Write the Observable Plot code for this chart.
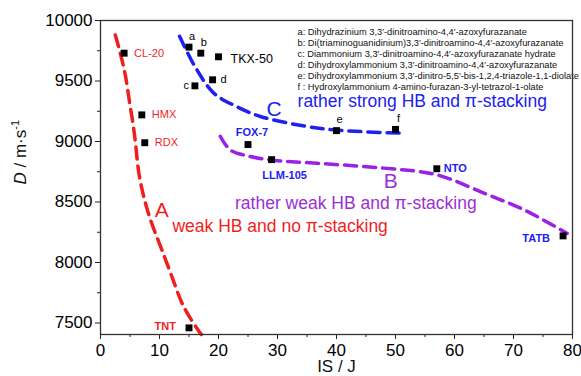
<!DOCTYPE html>
<html>
<head>
<meta charset="utf-8">
<script src="https://cdn.jsdelivr.net/npm/d3@7"></script>
<script src="https://cdn.jsdelivr.net/npm/@observablehq/plot@0.6"></script>
<style>
  html, body { margin: 0; padding: 0; background: #fff; }
  #chart svg { display: block; overflow: visible; }
</style>
</head>
<body>
<div id="chart"></div>
<script>
// ---- data ----
const names   = ["CL-20","HMX","RDX","TNT","a","b","TKX-50","c","d","e","f","FOX-7","LLM-105","NTO","TATB"];
const isJ     = [4, 7, 7.5, 15, 15, 17, 20, 16, 19, 40, 50, 25, 29, 57, 78.4];
const dValues = [9730, 9220, 8990, 7460, 9780, 9730, 9700, 9460, 9510, 9090, 9100, 8975, 8850, 8775, 8220];

const curveAx = [2.5, 3.3, 4.2, 5.0, 5.5, 5.9, 6.5, 7.4, 8.5, 10.2, 11.9, 14.1, 16.7, 17.1];
const curveAy = [9880, 9740, 9550, 9300, 9150, 9000, 8740, 8530, 8350, 8130, 7910, 7635, 7430, 7405];
const curveBx = [20.3, 22, 25.4, 28.8, 36.7, 48, 57, 65, 72, 79.1];
const curveBy = [9043, 8930, 8876, 8848, 8820, 8780, 8725, 8573, 8430, 8240];
const curveCx = [13.4, 16, 19.2, 23, 27.1, 35, 39.8, 45, 50.8, 51.4];
const curveCy = [9870, 9620, 9400, 9290, 9207, 9124, 9096, 9080, 9069, 9068];

const xTicks = [0, 10, 20, 30, 40, 50, 60, 70, 80];
const xMinor = [5, 15, 25, 35, 45, 55, 65, 75];
const yTicks = [7500, 8000, 8500, 9000, 9500, 10000];
const yMinor = [7750, 8250, 8750, 9250, 9750];

const legendLines = [
  "a: Dihydrazinium 3,3′-dinitroamino-4,4′-azoxyfurazanate",
  "b: Di(triaminoguanidinium)3,3′-dinitroamino-4,4′-azoxyfurazanate",
  "c: Diammonium 3,3′-dinitroamino-4,4′-azoxyfurazanate hydrate",
  "d: Dihydroxylammonium 3,3′-dinitroamino-4,4′-azoxyfurazanate",
  "e: Dihydroxylammonium 3,3′-dinitro-5,5′-bis-1,2,4-triazole-1,1-diolate",
  "f : Hydroxylammonium 4-amino-furazan-3-yl-tetrazol-1-olate"
];

// ---- tables ----
const pts = names.map((n, i) => ({name: n, x: isJ[i], y: dValues[i]}));
const curveA = curveAx.map((x, i) => ({x, y: curveAy[i]}));
const curveB = curveBx.map((x, i) => ({x, y: curveBy[i]}));
const curveC = curveCx.map((x, i) => ({x, y: curveCy[i]}));
const pick = (...ns) => pts.filter(d => ns.includes(d.name));

const RED = "#f01e1e", BLUE = "#2020f0", PURPLE = "#9a22e6", PURPLE_T = "#9b30d0";
const dash = "12,7";

const lbl = (data, o) => Plot.text(data, {x: "x", y: "y", text: "name", fontSize: 11, ...o});

const marks = [
  Plot.line(curveA, {x: "x", y: "y", stroke: RED, strokeWidth: 3.5, strokeDasharray: dash, curve: "catmull-rom"}),
  Plot.line(curveB, {x: "x", y: "y", stroke: PURPLE, strokeWidth: 3.5, strokeDasharray: dash, curve: "catmull-rom"}),
  Plot.line(curveC, {x: "x", y: "y", stroke: BLUE, strokeWidth: 3.5, strokeDasharray: dash, curve: "catmull-rom"}),
  Plot.dot(pts, {x: "x", y: "y", symbol: "square", r: 3.9, fill: "#000", stroke: "none"}),

  // point labels
  lbl(pick("CL-20","HMX","RDX"), {fill: RED, textAnchor: "start", dx: 10}),
  lbl(pick("TNT"), {fill: RED, textAnchor: "end", dx: -13, dy: -1, fontWeight: "bold"}),
  lbl(pick("TKX-50"), {fill: "#000", textAnchor: "start", dx: 12, dy: 2, fontSize: 12.5}),
  lbl(pick("a","b","e","f"), {fill: "#000", dx: 3, dy: -11, fontSize: 11}),
  lbl(pick("c"), {fill: "#000", textAnchor: "end", dx: -6, dy: 0, fontSize: 11}),
  lbl(pick("d"), {fill: "#000", textAnchor: "start", dx: 8, dy: 0, fontSize: 11}),
  lbl(pick("FOX-7"), {fill: BLUE, fontWeight: "bold", dx: 4, dy: -12}),
  lbl(pick("LLM-105"), {fill: BLUE, fontWeight: "bold", dx: 13, dy: 16}),
  lbl(pick("NTO"), {fill: BLUE, fontWeight: "bold", textAnchor: "start", dx: 7}),
  lbl(pick("TATB"), {fill: BLUE, fontWeight: "bold", textAnchor: "end", dx: -13, dy: 3}),

  // curve annotations
  Plot.text(["C"], {x: 29.4, y: 9270, fill: BLUE, fontSize: 21}),
  Plot.text(["rather strong HB and π-stacking"], {x: 33.4, y: 9335, fill: BLUE, fontSize: 17.5, textAnchor: "start"}),
  Plot.text(["B"], {x: 49.2, y: 8675, fill: PURPLE_T, fontSize: 21}),
  Plot.text(["rather weak HB and π-stacking"], {x: 22.8, y: 8485, fill: PURPLE_T, fontSize: 17.5, textAnchor: "start"}),
  Plot.text(["A"], {x: 10.4, y: 8435, fill: RED, fontSize: 21}),
  Plot.text(["weak HB and no π-stacking"], {x: 12.2, y: 8300, fill: RED, fontSize: 17.5, textAnchor: "start"}),

  // legend of compound codes
  ...legendLines.map((t, i) => Plot.text([t], {
    frameAnchor: "top-left", dx: 197, dy: 8 + i * 10.9, fill: "#111",
    fontSize: 9.3, textAnchor: "start"
  })),

  // axes
  Plot.axisX({ticks: xTicks, tickSize: 5, tickPadding: 4, fontSize: 17, label: null, stroke: "#222"}),
  Plot.axisX({ticks: xMinor, tickSize: 3, tickFormat: () => "", label: null, stroke: "#222"}),
  Plot.axisY({ticks: yTicks, tickSize: 5, tickPadding: 3, fontSize: 17, label: null, stroke: "#222", tickFormat: d => String(d)}),
  Plot.axisY({ticks: yMinor, tickSize: 3, tickFormat: () => "", label: null, stroke: "#222"}),
  Plot.text(["IS / J"], {frameAnchor: "bottom", dy: 37, fontSize: 17, fill: "#111"}),
  Plot.text(["D / m·s-1"], {frameAnchor: "left", dx: -80, dy: 7, rotate: -90, fontSize: 17, fill: "#111"}),
  Plot.frame({stroke: "#333", strokeWidth: 1.3})
];

const chart = Plot.plot({
  width: 581,
  height: 376,
  marginLeft: 100,
  marginRight: 9,
  marginTop: 20,
  marginBottom: 42,
  x: {domain: [0, 80]},
  y: {domain: [7405, 10000]},
  style: {fontFamily: "'Liberation Sans', Arial, sans-serif", background: "#fff", overflow: "visible"},
  marks
});

// italic D and superscript in the y-axis label
chart.querySelectorAll("text").forEach(t => {
  if (t.textContent === "D / m·s-1") {
    t.innerHTML = '<tspan font-style="italic">D</tspan> / m·s<tspan dy="-7" font-size="11">-1</tspan>';
  }
});

document.getElementById("chart").appendChild(chart);
</script>
</body>
</html>
